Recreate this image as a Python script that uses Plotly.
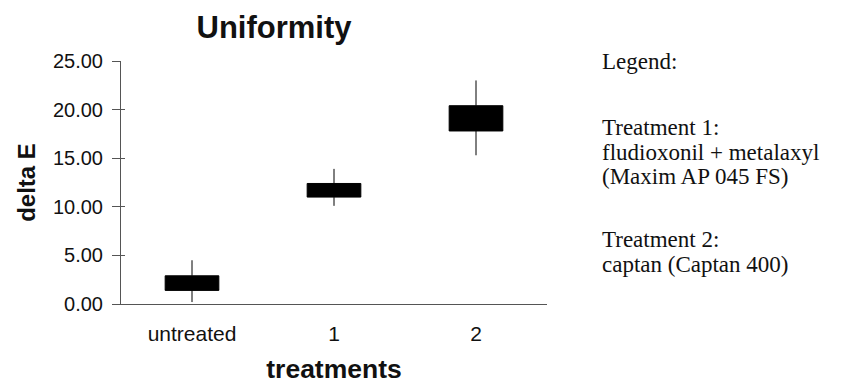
import plotly.graph_objects as go

# Treatment groups on the x axis
categories = ["untreated", "1", "2"]

# delta E spread per group: whisker range and box range
whisker_high = [4.5, 13.9, 23.0]
whisker_low = [0.2, 10.1, 15.3]
box_top = [2.9, 12.4, 20.4]
box_bottom = [1.4, 11.0, 17.8]

y_ticks = [0, 5, 10, 15, 20, 25]

legend_lines = [
    "Legend:",
    "Treatment 1:",
    "fludioxonil + metalaxyl",
    "(Maxim AP 045 FS)",
    "Treatment 2:",
    "captan (Captan 400)",
]
legend_line_y = [62, 128, 152, 176, 239, 264]

W, H = 845, 384
L, R, T, B = 121, 298, 61, 80

SANS = "Liberation Sans, Arial, sans-serif"
SERIF = "Liberation Serif, Times New Roman, serif"
INK = "#111111"
AXIS = "#555555"

fig = go.Figure()
fig.add_trace(go.Candlestick(
    x=categories,
    open=box_top,
    high=whisker_high,
    low=whisker_low,
    close=box_bottom,
    increasing=dict(fillcolor="black", line=dict(color="black", width=1)),
    decreasing=dict(fillcolor="black", line=dict(color="black", width=1)),
    whiskerwidth=0,
    showlegend=False,
    hoverinfo="skip",
))


def px_x(px):
    return (px - L) / (W - L - R)


def px_y(py):
    return (H - B - py) / (H - T - B)


annotations = [
    dict(text=t, x=px_x(600), y=px_y(yy), xref="paper", yref="paper",
         xanchor="left", yanchor="middle", showarrow=False,
         font=dict(family=SERIF, size=23, color=INK))
    for t, yy in zip(legend_lines, legend_line_y)
]

fig.update_layout(
    width=W, height=H,
    margin=dict(l=L, r=R, t=T, b=B, pad=0, autoexpand=False),
    paper_bgcolor="white", plot_bgcolor="white",
    boxgap=0.46,
    title=dict(text="<b>Uniformity</b>", x=274 / W,
               xanchor="center", y=1 - 27 / H, yanchor="middle",
               font=dict(family=SANS, size=31, color=INK)),
    xaxis=dict(
        type="category", range=[-0.5, 2.5], automargin=False,
        rangeslider=dict(visible=False),
        showline=True, linecolor=AXIS, linewidth=1,
        showgrid=False, zeroline=False, ticks="",
        tickfont=dict(family=SANS, size=21, color=INK),
        ticklabelstandoff=11,
        title=dict(text="<b>treatments</b>", standoff=27,
                   font=dict(family=SANS, size=26.5, color=INK)),
    ),
    yaxis=dict(
        range=[0, 25], tickvals=y_ticks, tickformat=".2f", automargin=False,
        showline=True, linecolor=AXIS, linewidth=1,
        showgrid=False, zeroline=False,
        ticks="outside", ticklen=8, tickcolor=AXIS, tickwidth=1,
        tickfont=dict(family=SANS, size=20, color=INK),
        ticklabelstandoff=5,
        title=dict(text="<b>delta E</b>", standoff=10,
                   font=dict(family=SANS, size=24, color=INK)),
    ),
    yaxis2=dict(
        overlaying="y", side="left", range=[0, 25], tickvals=y_ticks,
        automargin=False,
        showticklabels=False, showgrid=False, zeroline=False, showline=False,
        ticks="inside", ticklen=4, tickcolor=AXIS, tickwidth=1,
    ),
    annotations=annotations,
)

# invisible trace so the inside-tick overlay axis is drawn
fig.add_trace(go.Scatter(x=[categories[0]], y=[None], yaxis="y2",
                         showlegend=False, hoverinfo="skip"))

fig.write_html("out.html")
